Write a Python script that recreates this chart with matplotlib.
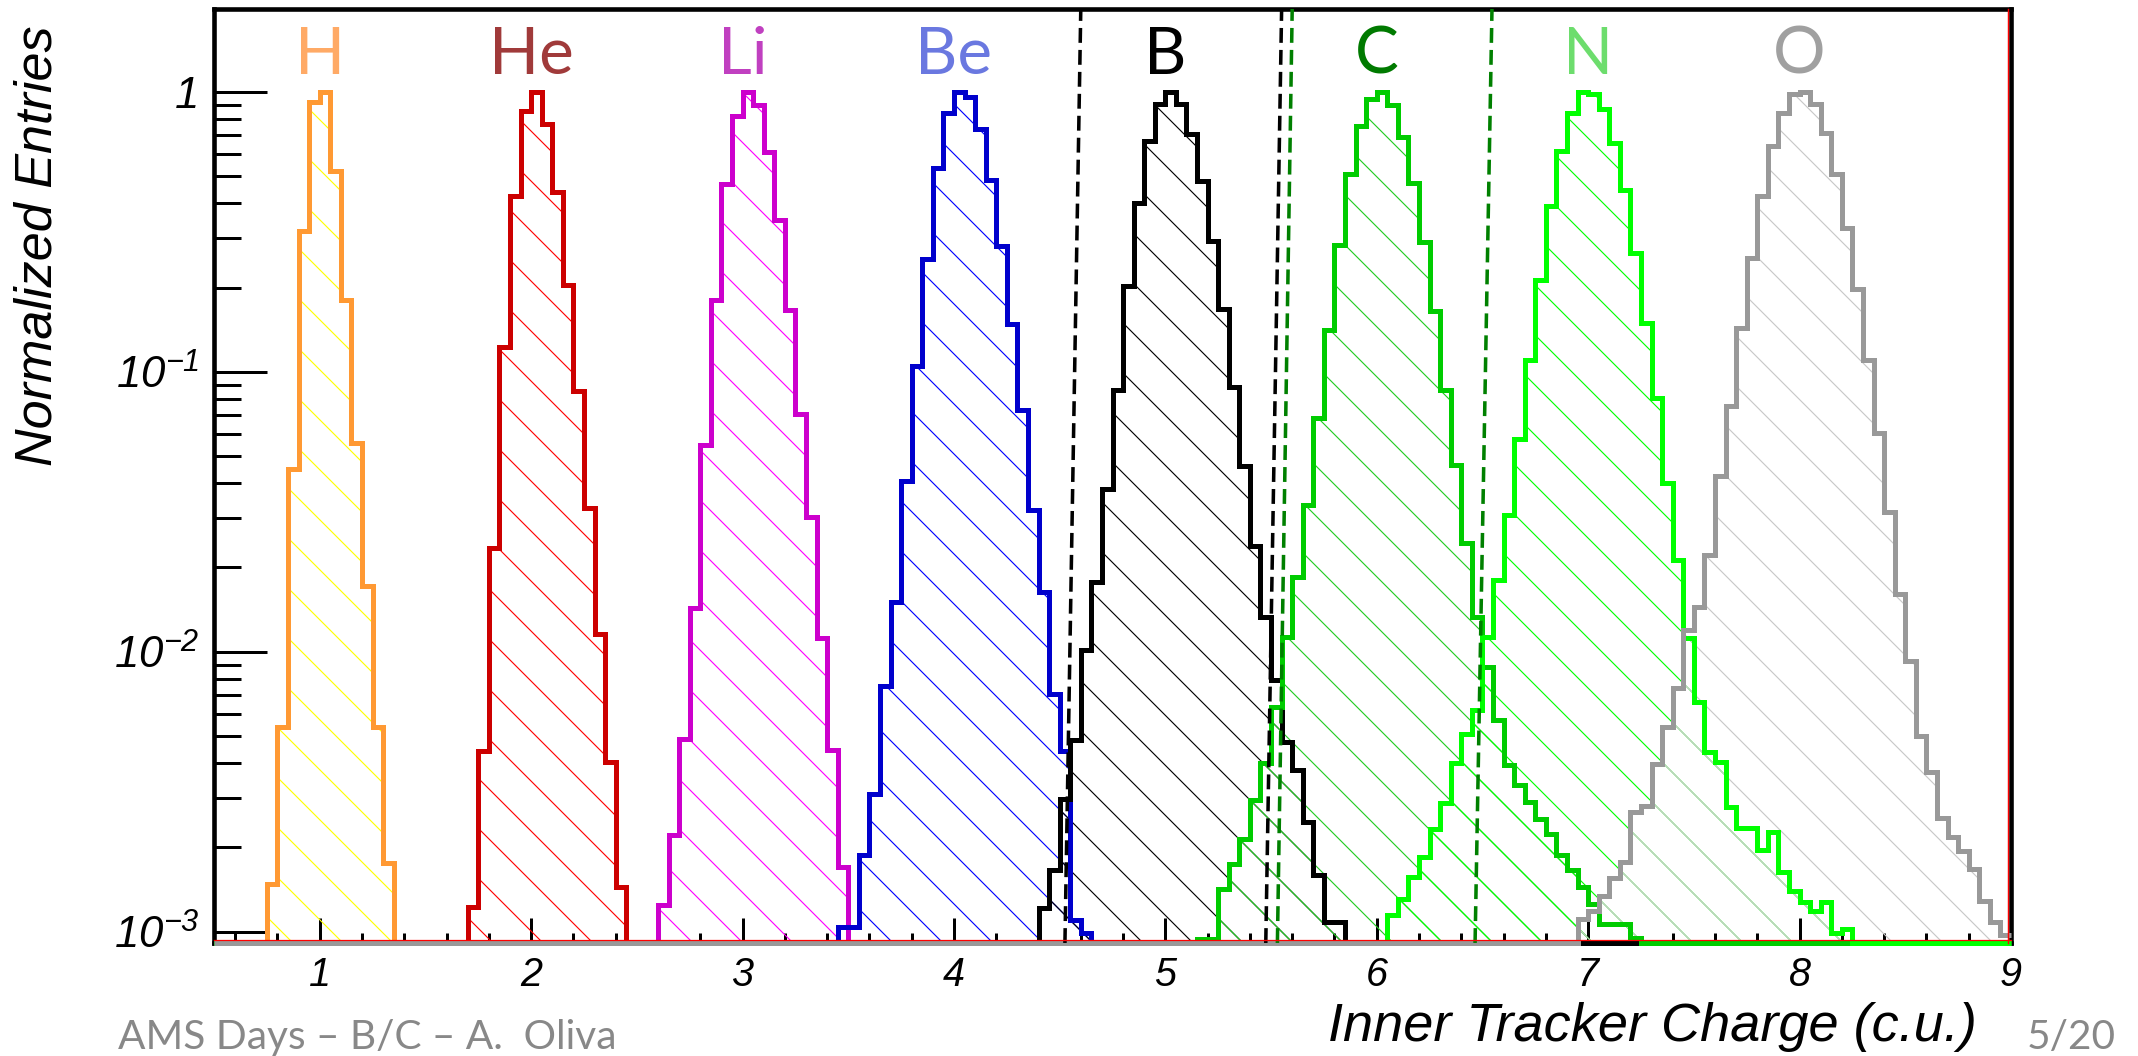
import numpy as np
import matplotlib
matplotlib.use("Agg")
import matplotlib.pyplot as plt
import matplotlib.transforms as mtransforms

plt.rcParams['font.family'] = ['Liberation Sans', 'DejaVu Sans']
plt.rcParams['mathtext.fontset'] = 'custom'
plt.rcParams['mathtext.rm'] = 'Liberation Sans:italic'
plt.rcParams['mathtext.it'] = 'Liberation Sans:italic'
plt.rcParams['mathtext.sf'] = 'Liberation Sans:italic'
plt.rcParams['hatch.linewidth'] = 0.55

# ---------------------------------------------------------------- data
BIN_WIDTH = 0.05
X_RANGE = (0.5, 9.0)
Y_RANGE = (9.1e-4, 1.98)

elements = ['H', 'He', 'Li', 'Be', 'B', 'C', 'N', 'O']
charges = [1, 2, 3, 4, 5, 6, 7, 8]

# low edge of the first filled bin of each histogram
first_bin = [0.75, 1.70, 2.60, 3.45, 4.40, 5.15, 6.05, 6.95]

h_entries = [0.00148, 0.0054, 0.045, 0.318, 0.92, 1.0, 0.522, 0.18, 0.0557,
             0.0171, 0.0054, 0.00176]
he_entries = [0.00122, 0.00442, 0.0234, 0.123, 0.425, 0.855, 1.0, 0.766, 0.44,
              0.205, 0.0851, 0.0326, 0.0116, 0.00404, 0.00144]
li_entries = [0.00124, 0.00221, 0.00486, 0.0143, 0.0549, 0.181, 0.471, 0.821,
              1.0, 0.896, 0.612, 0.348, 0.167, 0.0707, 0.0303, 0.0112, 0.00445,
              0.0017]
be_entries = [0.00104, 0.00104, 0.00187, 0.0031, 0.00754, 0.0151, 0.0406, 0.105,
              0.254, 0.536, 0.844, 1.0, 0.96, 0.735, 0.485, 0.281, 0.148, 0.0728,
              0.0321, 0.0164, 0.00706, 0.00442, 0.0011, 0.00099]
b_entries = [0.00121, 0.00166, 0.00298, 0.00483, 0.0101, 0.0178, 0.0381, 0.0864,
             0.202, 0.402, 0.668, 0.904, 1.0, 0.904, 0.706, 0.48, 0.293, 0.168,
             0.088, 0.0459, 0.0238, 0.0133, 0.00792, 0.00476, 0.00377, 0.00247,
             0.00159, 0.00108, 0.00108]
c_entries = [0.00094, 0.00094, 0.00142, 0.00175, 0.00215, 0.00294, 0.00399,
             0.00636, 0.0113, 0.0185, 0.0335, 0.0684, 0.1416, 0.283, 0.508, 0.756,
             0.947, 1.0, 0.896, 0.693, 0.474, 0.291, 0.165, 0.0864, 0.0464, 0.0244,
             0.0133, 0.00884, 0.0057, 0.00393, 0.00333, 0.0029, 0.00253, 0.00224,
             0.00188, 0.00166, 0.00144, 0.00125, 0.00106, 0.00106, 0.00106, 0.00095]
n_entries = [0.00115, 0.00131, 0.00157, 0.00185, 0.00233, 0.00287, 0.00399,
             0.0051, 0.00618, 0.0113, 0.018, 0.0308, 0.0574, 0.110, 0.213, 0.391,
             0.615, 0.844, 1.0, 0.981, 0.867, 0.659, 0.446, 0.267, 0.150, 0.0807,
             0.0401, 0.0212, 0.0112, 0.0066, 0.00438, 0.00402, 0.00279, 0.00234,
             0.00234, 0.00196, 0.00227, 0.00163, 0.0014, 0.00128, 0.00118, 0.00128,
             0.00099, 0.00102]
o_entries = [0.00111, 0.00118, 0.00134, 0.00155, 0.00177, 0.00267, 0.00282,
             0.00396, 0.00538, 0.00741, 0.012, 0.0145, 0.0222, 0.0423, 0.0753,
             0.1436, 0.255, 0.425, 0.641, 0.844, 0.981, 1.0, 0.904, 0.716, 0.508,
             0.327, 0.197, 0.110, 0.0605, 0.0315, 0.0161, 0.00924, 0.005, 0.00373,
             0.00255, 0.00217, 0.00194, 0.00167, 0.00129, 0.00108, 0.00097]

entries = [h_entries, he_entries, li_entries, be_entries,
           b_entries, c_entries, n_entries, o_entries]

# charge selection cuts (dashed lines): x at bottom and top of the frame
b_cut_bottom = [4.525, 5.475]
b_cut_top = [4.60, 5.55]
c_cut_bottom = [5.53, 6.465]
c_cut_top = [5.60, 6.545]

x_major = [1, 2, 3, 4, 5, 6, 7, 8, 9]
x_major_labels = ['1', '2', '3', '4', '5', '6', '7', '8', '9']
y_major = [1e-3, 1e-2, 1e-1, 1.0]
y_major_labels = [r'$10^{-3}$', r'$10^{-2}$', r'$10^{-1}$', '1']

# ---------------------------------------------------------------- style
line_colors = ['#ff9933', '#cc0000', '#cc00cc', '#0000cc',
               '#000000', '#00cc00', '#00ff00', '#999999']
hatch_colors = ['#ffff00', '#ff0000', '#ff00ff', '#0000ff',
                '#000000', '#22cc22', '#00ff00', '#c8c8c8']
label_colors = ['#ffaa66', '#a03a3a', '#c040c0', '#6a78e0',
                '#000000', '#007a00', '#6ddd6d', '#a0a0a0']

W, H, DPI = 2138, 1056, 150
fig = plt.figure(figsize=(W / DPI, H / DPI), dpi=DPI)
ax = fig.add_axes([214 / W, 1 - 943 / H, (2011 - 214) / W, (943 - 9) / H])
ax.set_yscale('log')
ax.set_xlim(*X_RANGE)
ax.set_ylim(*Y_RANGE)

n_bins = int(round((X_RANGE[1] - X_RANGE[0]) / BIN_WIDTH))
edges = X_RANGE[0] + BIN_WIDTH * np.arange(n_bins + 1)

for vals, start, lc, hc in zip(entries, first_bin, line_colors, hatch_colors):
    full = np.zeros(n_bins)
    i0 = int(round((start - X_RANGE[0]) / BIN_WIDTH))
    full[i0:i0 + len(vals)] = vals
    # hatched body
    ax.stairs(np.where(full > 0, full, 1e-7), edges, baseline=1e-7, fill=True,
              facecolor='none', edgecolor=hc, hatch='\\', linewidth=0,
              zorder=2)
    # outline; empty bins run along the lower frame edge
    ax.stairs(np.maximum(full, Y_RANGE[0]), edges, baseline=None, fill=False,
              edgecolor=lc, linewidth=2.4, zorder=3, clip_on=False)

for xb, xt in zip(b_cut_bottom, b_cut_top):
    ax.plot([xb, xt], list(Y_RANGE), color='black', lw=1.7,
            linestyle=(0, (4.2, 2.0)), zorder=4)
for xb, xt in zip(c_cut_bottom, c_cut_top):
    ax.plot([xb, xt], list(Y_RANGE), color='#008000', lw=1.7,
            linestyle=(0, (4.2, 2.0)), zorder=4)

# thin red inner frame on the right and bottom
right_tr = mtransforms.offset_copy(ax.transData, fig=fig, x=-3, y=0, units='dots')
ax.plot([X_RANGE[1], X_RANGE[1]], list(Y_RANGE), color='red', lw=0.7,
        transform=right_tr, clip_on=False, zorder=5)
bottom_tr = mtransforms.offset_copy(ax.transData, fig=fig, x=0, y=3, units='dots')
ax.plot(list(X_RANGE), [Y_RANGE[0], Y_RANGE[0]], color='red', lw=0.6,
        transform=bottom_tr, clip_on=False, zorder=5)

for z, name, col in zip(charges, elements, label_colors):
    ax.text(z, 1.16, name, color=col, fontsize=31.5, family=['Lato', 'DejaVu Sans'],
            ha='center', va='baseline', zorder=6)

# axes, ticks
for sp in ax.spines.values():
    sp.set_linewidth(2.2)

ax.set_xticks(x_major, labels=x_major_labels, fontsize=19, fontstyle='italic')
ax.set_xticks([v for v in np.round(np.arange(0.6, 9.0, 0.2), 1)
               if abs(v - round(v)) > 1e-6], minor=True)
ax.set_yticks(y_major, labels=y_major_labels, fontsize=21, fontstyle='italic')
ax.set_yticks([k * 10.0 ** d for d in (-3, -2, -1) for k in range(2, 10)],
              minor=True, labels=[])

ax.tick_params(axis='x', which='major', direction='in', length=12, width=1.44,
               pad=6.3, top=False)
ax.tick_params(axis='x', which='minor', direction='in', length=4.8, width=1.44,
               top=False)
ax.tick_params(axis='y', which='major', direction='in', length=25.4, width=1.44,
               pad=7, right=False)
ax.tick_params(axis='y', which='minor', direction='in', length=13, width=1.44,
               right=False)

fig.text(1977 / W, 1 - 1041 / H, 'Inner Tracker Charge (c.u.)', fontsize=26,
         fontstyle='italic', ha='right', va='baseline')
fig.text(38 / W, 1 - 25 / H, 'Normalized Entries', fontsize=25,
         fontstyle='italic', rotation=90, ha='center', va='top')

fig.text(118 / W, 1 - 1049 / H, 'AMS Days \u2013 B/C \u2013 A.  Oliva',
         fontsize=19.5, color='#888888', family=['Lato', 'DejaVu Sans'],
         ha='left', va='baseline')
fig.text(2116 / W, 1 - 1049 / H, '5/20', fontsize=19.5, color='#888888',
         family=['Lato', 'DejaVu Sans'], ha='right', va='baseline')

fig.savefig('out.png', dpi=DPI)
